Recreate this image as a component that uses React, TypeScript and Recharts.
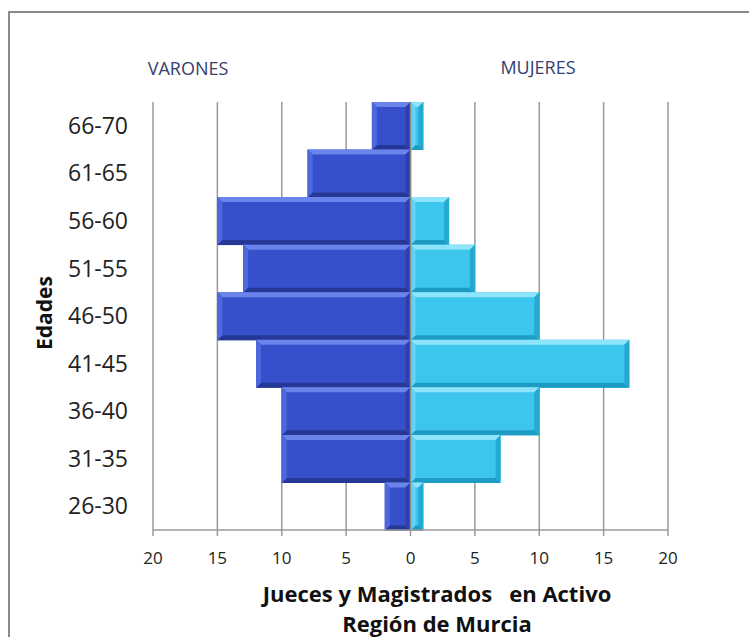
import React from 'react';
import { BarChart, Bar, XAxis, YAxis, CartesianGrid, ReferenceLine } from 'recharts';

const ages = ['66-70', '61-65', '56-60', '51-55', '46-50', '41-45', '36-40', '31-35', '26-30'];
const varones = [3, 8, 15, 13, 15, 12, 10, 10, 2];
const mujeres = [1, 0, 3, 5, 10, 17, 10, 7, 1];
const xTicks = [-20, -15, -10, -5, 0, 5, 10, 15, 20];

const data = ages.map((age, i) => ({ age, varones: -varones[i], mujeres: mujeres[i] }));

const FONT = '"Open Sans", "DejaVu Sans", sans-serif';

type Pal = { main: string; top: string; bottom: string; left: string; right: string };
const malePal: Pal = { main: '#3650cc', top: '#6a84ec', bottom: '#263896', left: '#4d68dc', right: '#2b40ac' };
const femalePal: Pal = { main: '#3cc6ee', top: '#8ee4fb', bottom: '#1c9cc2', left: '#62d4f5', right: '#24aad2' };

const makeShape = (pal: Pal) => (props: any) => {
  let { x, y, width, height } = props;
  if (width == null || height == null) return <g />;
  if (width < 0) { x += width; width = -width; }
  if (height < 0) { y += height; height = -height; }
  if (width < 0.5) return <g />;
  const b = Math.min(5, width / 2, height / 2);
  const x2 = x + width;
  const y2 = y + height;
  return (
    <g>
      <rect x={x} y={y} width={width} height={height} fill={pal.main} />
      <polygon points={`${x},${y} ${x2},${y} ${x2 - b},${y + b} ${x + b},${y + b}`} fill={pal.top} />
      <polygon points={`${x},${y2} ${x2},${y2} ${x2 - b},${y2 - b} ${x + b},${y2 - b}`} fill={pal.bottom} />
      <polygon points={`${x},${y} ${x + b},${y + b} ${x + b},${y2 - b} ${x},${y2}`} fill={pal.left} />
      <polygon points={`${x2},${y} ${x2 - b},${y + b} ${x2 - b},${y2 - b} ${x2},${y2}`} fill={pal.right} />
    </g>
  );
};

export default function App() {
  return (
    <div style={{ position: 'absolute', left: 0, top: 0, width: 749, height: 637, background: '#fff', overflow: 'hidden' }}>
      <div style={{ position: 'absolute', left: 8, top: 11, width: 800, height: 700, border: '2.5px solid #8a8a8a', boxSizing: 'border-box' }} />
      <div style={{ position: 'absolute', left: 0, top: 0 }}>
        <BarChart
          width={749}
          height={637}
          data={data}
          layout="vertical"
          stackOffset="sign"
          barCategoryGap={0}
          margin={{ top: 102, right: 81, bottom: 77, left: 83 }}
        >
          <CartesianGrid horizontal={false} vertical={true} stroke="#9a9a9a" strokeWidth={1.5} />
          <XAxis
            type="number"
            domain={[-20, 20]}
            ticks={xTicks}
            tickFormatter={(v: number) => String(Math.abs(v))}
            axisLine={{ stroke: '#9a9a9a', strokeWidth: 1.5 }}
            tickLine={{ stroke: '#9a9a9a', strokeWidth: 1.5 }}
            tickSize={6}
            tickMargin={16}
            height={30}
            tick={{ fill: '#222', fontSize: 17, fontFamily: FONT }}
          />
          <YAxis
            type="category"
            dataKey="age"
            width={70}
            axisLine={false}
            tickLine={false}
            tickMargin={19}
            tick={{ fill: '#222', fontSize: 23, fontFamily: FONT }}
          />
          <Bar dataKey="varones" stackId="a" isAnimationActive={false} shape={makeShape(malePal)} />
          <Bar dataKey="mujeres" stackId="a" isAnimationActive={false} shape={makeShape(femalePal)} />
          <ReferenceLine x={0} stroke="#8a8a8a" strokeWidth={1.5} />
        </BarChart>
      </div>
      <svg width={749} height={637} style={{ position: 'absolute', left: 0, top: 0, pointerEvents: 'none' }}>
        <text x={188} y={75} textAnchor="middle" fontFamily={FONT} fontSize={18} fill="#34406e">VARONES</text>
        <text x={538} y={74} textAnchor="middle" fontFamily={FONT} fontSize={18} fill="#34406e">MUJERES</text>
        <text x={0} y={0} transform="translate(52,313) rotate(-90)" textAnchor="middle" fontFamily={FONT} fontSize={21} fontWeight="bold" fill="#111">Edades</text>
        <text x={437} y={602} textAnchor="middle" fontFamily={FONT} fontSize={22} fontWeight="bold" fill="#111" style={{ whiteSpace: 'pre' }}>{'Jueces y Magistrados   en Activo'}</text>
        <text x={437} y={632} textAnchor="middle" fontFamily={FONT} fontSize={22} fontWeight="bold" fill="#111">Región de Murcia</text>
      </svg>
    </div>
  );
}
